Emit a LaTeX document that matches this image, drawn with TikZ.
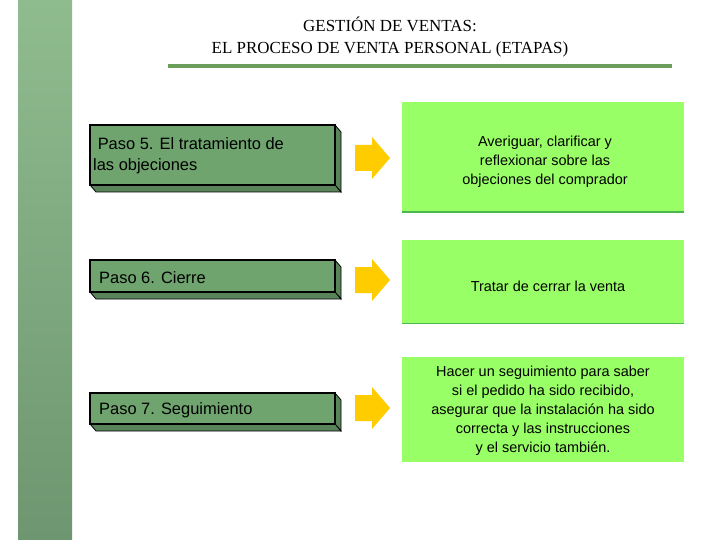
\documentclass[tikz,border=0pt]{standalone}
\usepackage{fontspec}
\setmainfont{Liberation Sans}
\newfontfamily\titlefont{Liberation Serif}
\begin{document}
\begin{tikzpicture}[x=1bp,y=-1bp,
  stepface/.style={draw=black,line width=1.2pt,fill=stepgreen},
  arr/.style={fill=arrowy,draw=none},
  lbl/.style={font=\fontsize{16.5}{21}\selectfont,align=left,anchor=west,inner sep=0pt},
  rbl/.style={font=\fontsize{14.5}{19}\selectfont,align=center,inner sep=0pt}]
\definecolor{stepgreen}{HTML}{6FA46F}
\definecolor{lightg}{HTML}{99FF66}
\definecolor{arrowy}{HTML}{FFCC00}
\definecolor{linegreen}{HTML}{6B9E5B}
\useasboundingbox (0,0) rectangle (720,540);
\fill[white] (0,0) rectangle (720,540);
\shade[top color={rgb,255:red,143;green,188;blue,143},bottom color={rgb,255:red,110;green,150;blue,112}] (18,0) rectangle (72,540);
\node[font=\titlefont\fontsize{17}{22}\selectfont,align=center] (title) at (390,37) {GESTIÓN DE VENTAS:\\EL PROCESO DE VENTA PERSONAL (ETAPAS)};
\coordinate (la) at (168,66); \coordinate (lb) at (672,66);
\draw[linegreen,line width=3.5pt] (la) -- (lb);
\foreach \t/\b/\n in {125/185/5,260/292/6,393/424/7}{
  \fill[stepgreen!80!black,draw=black,line width=0.8pt] (335,\t) -- (341,\t+7) -- (341,\b+7) -- (335,\b) -- cycle;
  \fill[stepgreen!80!black,draw=black,line width=0.8pt] (90,\b) -- (335,\b) -- (341,\b+7) -- (96,\b+7) -- cycle;
  \draw[stepface] (90,\t) rectangle (335,\b);
}
\node[lbl] (p5) at (93,156) {\ Paso 5. El tratamiento de\\las objeciones};
\node[lbl] (p6) at (99,278) {Paso 6. Cierre};
\node[lbl] (p7) at (99,410) {Paso 7. Seguimiento};
\foreach \y/\n in {158/a1,280/a2,408/a3}{
  \fill[arr] (355,\y-13) -- (372,\y-13) -- (372,\y-21) -- (390,\y) -- (372,\y+21) -- (372,\y+13) -- (355,\y+13) -- cycle;
}
\fill[lightg] (402,102) rectangle (684,212);
\draw[green!60!black!70,line width=1.2pt] (402,212) -- (684,212);
\fill[lightg] (402,240) rectangle (684,323);
\draw[green!60!black!70,line width=1pt] (402,323) -- (684,323);
\fill[lightg] (402,357) rectangle (684,462);
\node[rbl] (r1) at (545,162) {Averiguar, clarificar y\\reflexionar sobre las\\objeciones del comprador};
\node[rbl] (r2) at (548,286) {Tratar de cerrar la venta};
\node[rbl] (r3) at (543,411) {Hacer un seguimiento para saber\\si el pedido ha sido recibido,\\asegurar que la instalación ha sido\\correcta y las instrucciones\\y el servicio también.};
\end{tikzpicture}
\end{document}
